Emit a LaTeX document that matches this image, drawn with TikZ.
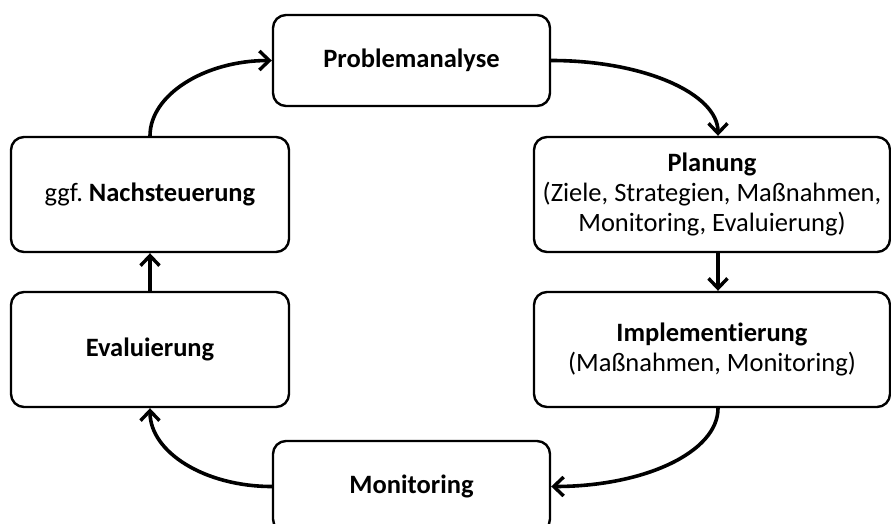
\documentclass[tikz,border=0pt]{standalone}
\usepackage{fontspec}
\setmainfont{Carlito}[Ligatures={NoCommon,NoContextual}]
\usetikzlibrary{arrows.meta}
\begin{document}
\frenchspacing
\begin{tikzpicture}[x=1pt,y=-1pt,
  box/.style={draw, line width=2.4pt, rounded corners=13pt, align=center, inner sep=0pt,
    font=\fontsize{26.5}{30}\selectfont},
  smallbox/.style={box, minimum width=277pt, minimum height=91pt},
  bigbox/.style={box, minimum width=278pt, minimum height=115pt},
  widebox/.style={box, minimum width=356pt, minimum height=115pt},
  conn/.style={line width=3.6pt, line cap=round,
    -{Straight Barb[length=10pt,width=19pt,line width=3.4pt]}}]
\useasboundingbox (0,0) rectangle (891,524);
\fill[white] (0,0) rectangle (891,524);
\node[smallbox] (prob) at (411.5,60.5) {\textbf{Problemanalyse}};
\node[widebox] (plan) at (712,194.5) {\textbf{Planung}\\(Ziele, Strategien, Maßnahmen,\\Monitoring, Evaluierung)};
\node[widebox] (impl) at (712,349.5) {\textbf{Implementierung}\\(Maßnahmen, Monitoring)};
\node[smallbox] (moni) at (411.5,486.5) {\textbf{Monitoring}};
\node[bigbox] (eval) at (150,349.5) {\textbf{Evaluierung}};
\node[bigbox] (nach) at (150,194.5) {ggf.\ \textbf{Nachsteuerung}};
\draw[conn] (prob.east) .. controls +(93,0) and +(0,-42) .. ([xshift=6pt]plan.north);
\draw[conn] ([xshift=6pt]plan.south) -- ([xshift=6pt]impl.north);
\draw[conn] ([xshift=6pt]impl.south) .. controls +(0,44) and +(93,0) .. (moni.east);
\draw[conn] (moni.west) .. controls +(-67,0) and +(0,44) .. (eval.south);
\draw[conn] (eval.north) -- (nach.south);
\draw[conn] (nach.north) .. controls +(0,-41) and +(-67,0) .. (prob.west);
\end{tikzpicture}
\end{document}
